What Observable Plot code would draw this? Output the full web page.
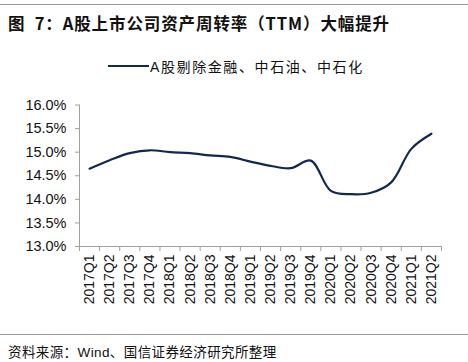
<!DOCTYPE html>
<html><head><meta charset="utf-8">
<script src="https://cdn.jsdelivr.net/npm/d3@7"></script>
<script src="https://cdn.jsdelivr.net/npm/@observablehq/plot@0.6"></script>
<style>
body{margin:0;background:#fff;}
#wrap{position:relative;width:468px;height:362px;overflow:hidden;font-family:"Liberation Sans",Arial,sans-serif;}
#wrap svg{position:absolute;left:0;top:0;}
.hr{position:absolute;left:0;width:468px;height:1px;background:#9a9a9a;}
#title{position:absolute;left:8px;top:11px;font-size:16.5px;font-weight:bold;color:#111;font-family:"Noto Sans CJK SC","Liberation Sans",sans-serif;white-space:nowrap;letter-spacing:0.9px;}
#legend{position:absolute;left:108px;top:56px;font-size:14px;color:#111;font-family:"Liberation Sans","Noto Sans CJK SC",sans-serif;white-space:nowrap;display:flex;align-items:center;letter-spacing:1.6px;}
#legend span.sw{display:inline-block;width:41px;height:2px;background:#13284f;margin-right:1px;}
#foot{position:absolute;left:8px;top:341px;font-size:13.5px;color:#111;font-family:"Liberation Sans","Noto Sans CJK SC",sans-serif;white-space:nowrap;letter-spacing:0.4px;}
</style></head>
<body>
<div id="wrap">
<div class="hr" style="top:4px"></div>
<div id="title">图&nbsp;&nbsp;7：A股上市公司资产周转率（TTM）大幅提升</div>
<div id="legend"><span class="sw"></span>A股剔除金融、中石油、中石化</div>
<div class="hr" style="top:334px"></div>
<div id="foot">资料来源：Wind、国信证券经济研究所整理</div>
</div>
<script>
const quarters = ["2017Q1","2017Q2","2017Q3","2017Q4","2018Q1","2018Q2","2018Q3","2018Q4","2019Q1","2019Q2","2019Q3","2019Q4","2020Q1","2020Q2","2020Q3","2020Q4","2021Q1","2021Q2"];
const turnover = [14.65,14.83,14.98,15.04,15.00,14.98,14.93,14.90,14.80,14.71,14.66,14.82,14.18,14.11,14.14,14.36,15.07,15.39];
const yTicks = [13,13.5,14,14.5,15,15.5,16];
const seriesName = "A股剔除金融、中石油、中石化";

const data = quarters.map((q,i)=>({i, q, v: turnover[i]}));
const centers = quarters.map((q,i)=>i);
const bounds = [...quarters.map((q,i)=>i-0.5), quarters.length-0.5];
const axisGray = "#a0a0a0";

const chart = Plot.plot({
  width: 468, height: 362,
  marginLeft: 79, marginRight: 27, marginTop: 104.5, marginBottom: 116,
  style: {fontFamily: "'Liberation Sans', Arial, sans-serif", background: "transparent", color: "#111"},
  x: {type: "linear", domain: [-0.5, quarters.length-0.5]},
  y: {domain: [13, 16]},
  marks: [
    Plot.ruleY([13], {stroke: axisGray, strokeWidth: 1}),
    Plot.ruleX([-0.5], {stroke: axisGray, strokeWidth: 1}),
    Plot.axisY({ticks: yTicks, tickFormat: d => d.toFixed(1) + "%", tickSize: 4, tickPadding: 9, stroke: axisGray, fontSize: 14.5, color: "#111", label: null}),
    Plot.axisX({ticks: bounds, tickFormat: () => "", tickSize: 5, stroke: axisGray, label: null}),
    Plot.axisX({ticks: centers, tickFormat: i => quarters[i], tickSize: 0, tickPadding: 8, tickRotate: -90, fontSize: 14, color: "#111", label: null}),
    Plot.line(data, {x: "i", y: "v", stroke: "#13284f", strokeWidth: 2.2, curve: "catmull-rom"})
  ]
});
document.getElementById("wrap").prepend(chart);
</script>
</body></html>
